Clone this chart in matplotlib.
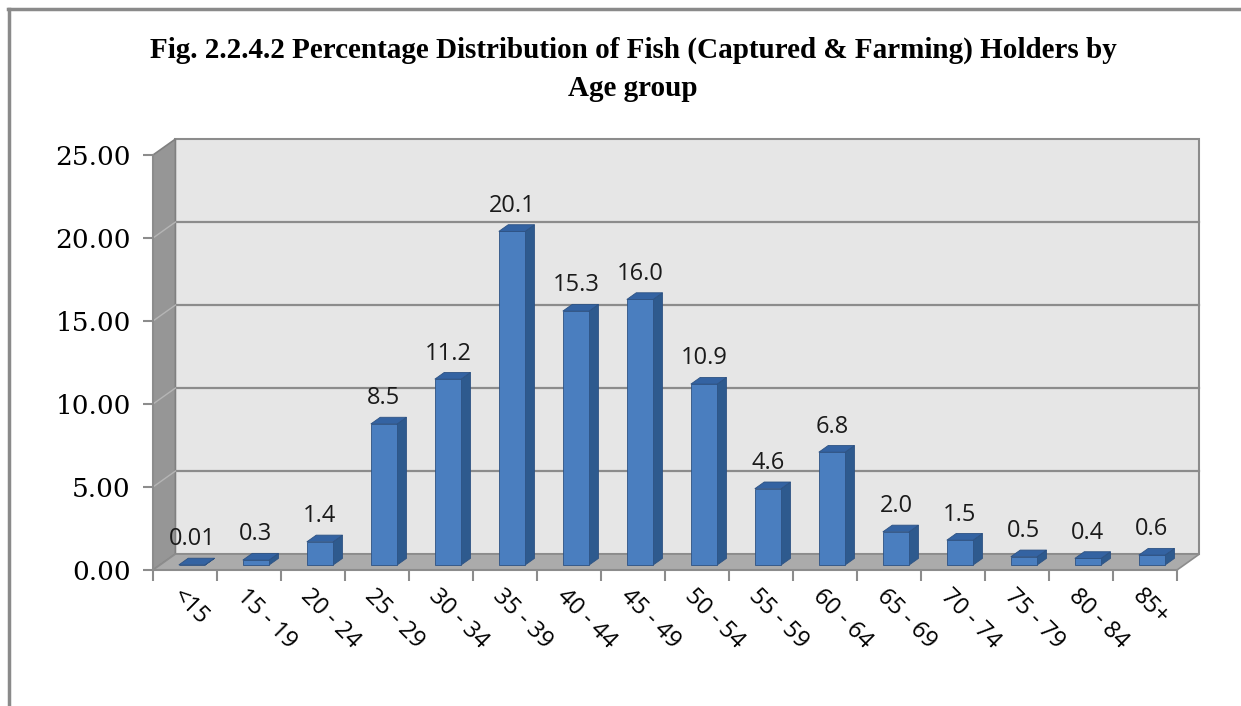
import matplotlib
matplotlib.use("Agg")
import matplotlib.pyplot as plt
from matplotlib.patches import Polygon
from matplotlib.lines import Line2D

# data
age_groups = ["<15", "15 - 19", "20 - 24", "25 - 29", "30 - 34", "35 - 39", "40 - 44",
              "45 - 49", "50 - 54", "55 - 59", "60 - 64", "65 - 69", "70 - 74",
              "75 - 79", "80 - 84", "85+"]
percent = [0.01, 0.3, 1.4, 8.5, 11.2, 20.1, 15.3, 16.0, 10.9, 4.6, 6.8, 2.0, 1.5, 0.5, 0.4, 0.6]
value_labels = ["0.01", "0.3", "1.4", "8.5", "11.2", "20.1", "15.3", "16.0", "10.9",
                "4.6", "6.8", "2.0", "1.5", "0.5", "0.4", "0.6"]
y_ticks = [0, 5, 10, 15, 20, 25]

title = "Fig. 2.2.4.2 Percentage Distribution of Fish (Captured & Farming) Holders by\nAge group"

# fake 3-d look (offsets in data units)
DX, DY = 0.35, 0.96
FRONT, DEPTH, WIDTH = 0.31, 0.42, 0.41
C_FRONT, C_SIDE, C_TOP, C_EDGE = "#4A7EBF", "#2E5A8E", "#3463A2", "#2D5283"
YMAX = 25
n = len(percent)

fig = plt.figure(figsize=(12.41, 7.06), dpi=100)
ax = fig.add_axes([153 / 1241, 136 / 706, 1024 / 1241, 415 / 706])
ax.set_xlim(0, n)
ax.set_ylim(0, YMAX)
for s in ax.spines.values():
    s.set_visible(False)
ax.patch.set_visible(False)

# walls and floor
back = Polygon([(DX, DY), (n + DX, DY), (n + DX, YMAX + DY), (DX, YMAX + DY)],
               closed=True, fc="#E6E6E6", ec="#8C8C8C", lw=1.5, clip_on=False, zorder=1)
left = Polygon([(0, 0), (DX, DY), (DX, YMAX + DY), (0, YMAX)],
               closed=True, fc="#969696", ec="#808080", lw=1.2, clip_on=False, zorder=1)
floor = Polygon([(0, 0), (n, 0), (n + DX, DY), (DX, DY)],
                closed=True, fc="#ABABAB", ec="#8C8C8C", lw=1.2, clip_on=False, zorder=1)
for p in (back, left, floor):
    ax.add_patch(p)

for t in y_ticks[1:-1]:
    ax.add_line(Line2D([DX, n + DX], [t + DY, t + DY], color="#8C8C8C", lw=1.6, zorder=2, clip_on=False))
    ax.add_line(Line2D([0, DX], [t, t + DY], color="#B5B5B5", lw=1.0, zorder=2, clip_on=False))

ax.add_line(Line2D([0, 0], [0, YMAX], color="#8C8C8C", lw=1.5, zorder=3, clip_on=False))
ax.add_line(Line2D([0, n], [0, 0], color="#8C8C8C", lw=1.5, zorder=3, clip_on=False))

# bars: front face via ax.bar, side and top faces as polygons
centers = [i + 0.5 for i in range(n)]
xs = [c + FRONT * DX for c in centers]
ax.bar(xs, percent, width=WIDTH, bottom=FRONT * DY, color=C_FRONT,
       edgecolor=C_EDGE, linewidth=0.6, zorder=5, clip_on=False)
for x, v, lab in zip(xs, percent, value_labels):
    xl, xr = x - WIDTH / 2, x + WIDTH / 2
    y0, y1 = FRONT * DY, v + FRONT * DY
    ddx, ddy = DEPTH * DX, DEPTH * DY
    side = Polygon([(xr, y0), (xr + ddx, y0 + ddy), (xr + ddx, y1 + ddy), (xr, y1)],
                   closed=True, fc=C_SIDE, ec=C_EDGE, lw=0.6, zorder=4, clip_on=False)
    top = Polygon([(xl, y1), (xr, y1), (xr + ddx, y1 + ddy), (xl + ddx, y1 + ddy)],
                  closed=True, fc=C_TOP, ec=C_EDGE, lw=0.6, zorder=6, clip_on=False)
    ax.add_patch(side)
    ax.add_patch(top)
    ax.annotate(lab, (x, y1 + ddy), xytext=(0, 5), textcoords="offset points",
                ha="center", va="bottom", fontsize=17, family="Open Sans", color="#1A1A1A",
                zorder=7)

# axes ticks
ax.set_yticks(y_ticks)
ax.set_yticklabels([f"{t:.2f}" for t in y_ticks], family="DejaVu Serif", fontsize=19)
ax.tick_params(axis="y", length=7, width=1.5, color="#8C8C8C", pad=9)

ax.set_xticks(range(n + 1), minor=True)
ax.tick_params(axis="x", which="minor", length=8, width=1.5, color="#8C8C8C")
ax.set_xticks(centers)
ax.set_xticklabels(age_groups, rotation=-45, ha="left", rotation_mode="anchor",
                   family="Open Sans", fontsize=17)
ax.tick_params(axis="x", which="major", length=0, pad=10)

fig.suptitle(title, x=0.51, y=0.948, fontsize=21, fontweight="bold",
             family="Liberation Serif", linespacing=1.5)

# outer frame of the picture
fig.add_artist(Line2D([8 / 1241, 1], [1 - 9 / 706] * 2, transform=fig.transFigure,
                      color="#8A8A8A", lw=2.5))
fig.add_artist(Line2D([9 / 1241] * 2, [0, 1 - 9 / 706], transform=fig.transFigure,
                      color="#8A8A8A", lw=2.5))

fig.savefig("out.png", dpi=100)
